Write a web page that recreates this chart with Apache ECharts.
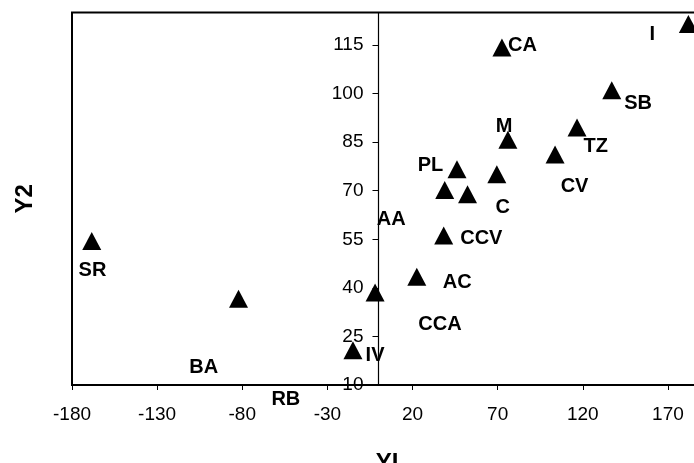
<!DOCTYPE html>
<html>
<head>
<meta charset="utf-8">
<script src="https://cdn.jsdelivr.net/npm/echarts@6/dist/echarts.min.js"></script>
<style>
  html, body { margin: 0; padding: 0; background: #fff; }
  #chart { width: 694px; height: 463px; }
</style>
</head>
<body>
<div id="chart"></div>
<script>
// point names and coordinates
const names = ['CA', 'I', 'SB', 'TZ', 'M', 'CV', 'PL', 'C', 'AA', 'RB', 'CCV', 'AC', 'CCA', 'IV', 'SR', 'BA'];
const yiValues = [72.5, 182, 137, 116.6, 76, 103.7, 46.1, 69.5, 52.3, 38.9, 38.3, 22.5, -2, -15, -168.4, -82.2];
const y2Values = [114.2, 121.5, 101, 89.5, 85.7, 81.2, 76.6, 75.1, 68.9, 70.2, 56.2, 43.4, 38.6, 20.7, 54.5, 36.6];

// label placement (pixels from marker centre), kept apart from the values
const labelOffsets = [
  [20.5, -2.5], [-36, 10.3], [26.4, 13.1], [18.7, 19.2], [-3.7, -13.3], [19.5, 32.2],
  [-26.5, -3.8], [6, 33.5], [-76.3, 25.1], [-158.9, 209.8], [37.6, 2.8], [40.5, 5.9],
  [64.9, 32.5], [22.1, 5.5], [0.7, 29.9], [-34.8, 68.9]
];

const points = names.map((n, i) => ({ name: n, value: [yiValues[i], y2Values[i]] }));

const font = 'Liberation Sans, Arial, sans-serif';
const xMin = -180, xMax = 190;
const gridLeft = 72, gridWidth = 630;
// the Y2 axis crosses at YI = 0
const yAxisShift = -(0 - xMin) / (xMax - xMin) * gridWidth;

const chart = echarts.init(document.getElementById('chart'), null, { renderer: 'canvas' });
chart.setOption({
  animation: false,
  backgroundColor: '#fff',
  grid: {
    left: gridLeft, top: 12.6, width: gridWidth, height: 372.4,
    outerBoundsMode: 'none', containLabel: false,
    show: true, borderColor: '#000', borderWidth: 2, backgroundColor: 'transparent'
  },
  xAxis: {
    type: 'value',
    min: xMin, max: xMax, interval: 50,
    name: 'YI', nameLocation: 'middle', nameGap: 66,
    nameTextStyle: { fontFamily: font, fontWeight: 'bold', fontSize: 24, color: '#000' },
    axisLine: { onZero: false, lineStyle: { color: '#000', width: 2 } },
    axisTick: { show: true, inside: false, length: 5, lineStyle: { color: '#000', width: 1 } },
    axisLabel: { fontFamily: font, fontSize: 19, color: '#000', margin: 20, showMaxLabel: false },
    splitLine: { show: false }
  },
  yAxis: {
    type: 'value',
    min: 10, max: 125, interval: 15,
    position: 'left', offset: yAxisShift,
    name: 'Y2', nameLocation: 'middle', nameGap: 341, nameRotate: 90,
    nameTextStyle: { fontFamily: font, fontWeight: 'bold', fontSize: 24, color: '#000' },
    axisLine: { onZero: false, lineStyle: { color: '#000', width: 1.2 } },
    axisTick: { show: true, inside: false, length: 6, lineStyle: { color: '#000', width: 1 } },
    axisLabel: { fontFamily: font, fontSize: 19, color: '#000', margin: 15, showMaxLabel: false },
    splitLine: { show: false }
  },
  series: [{
    type: 'scatter',
    symbol: 'triangle',
    symbolSize: [19, 18],
    itemStyle: { color: '#000', opacity: 1 },
    label: {
      show: true, position: 'inside', formatter: '{b}',
      fontFamily: font, fontWeight: 'bold', fontSize: 20, color: '#000',
      textBorderWidth: 0, opacity: 1
    },
    labelLayout: (p) => ({
      dx: labelOffsets[p.dataIndex][0],
      dy: labelOffsets[p.dataIndex][1],
      hideOverlap: false
    }),
    data: points
  }]
});
</script>
</body>
</html>
